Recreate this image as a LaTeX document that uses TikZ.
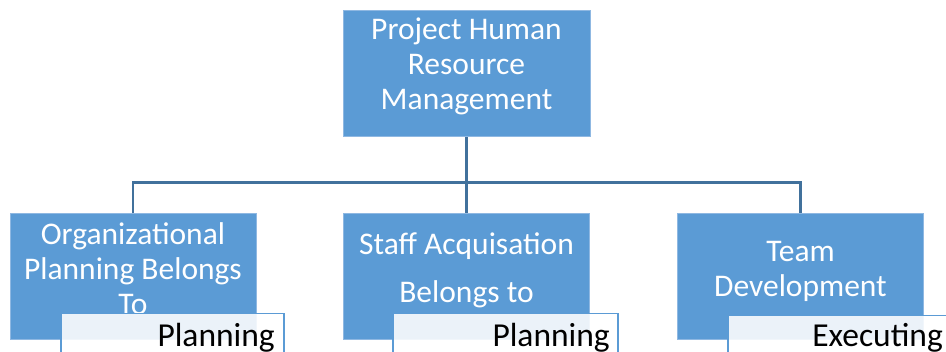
\documentclass[tikz,border=0pt]{standalone}
\usepackage{fontspec}
\setmainfont{Carlito}
\definecolor{boxblue}{HTML}{5B9BD5}
\definecolor{boxedge}{HTML}{8FB8E2}
\definecolor{linkblue}{HTML}{41719C}
\definecolor{tagedge}{HTML}{5B9BD5}
\begin{document}
\begin{tikzpicture}[x=1pt,y=-1pt,
  bluebox/.style={draw=boxedge, line width=1pt, fill=boxblue, minimum width=246pt, minimum height=126pt, inner sep=0pt},
  boxtext/.style={text=white, font=\fontsize{31.5}{35}\selectfont, align=center, inner sep=0pt},
  tagbox/.style={draw=tagedge, line width=1.5pt, fill=white, fill opacity=0.88, anchor=north west, minimum height=80pt, inner sep=0pt},
  tagtext/.style={text=black, font=\fontsize{33.5}{36}\selectfont, anchor=base east, inner sep=0pt},
  link/.style={draw=linkblue, line width=2.5pt}]
\useasboundingbox (0,0) rectangle (946,352);
\clip (0,0) rectangle (946,352);
% boxes
\node[bluebox, minimum width=247pt] (top) at (466.5,74) {};
\node[bluebox] (b1) at (133,277) {};
\node[bluebox] (b2) at (466.5,277) {};
\node[bluebox] (b3) at (800.5,277) {};
% connectors
\draw[link] (top.south) -- (b2.north);
\draw[link] (b1.north) -- ++(0,-31) coordinate (bus) -| (b3.north);
% texts
\node[boxtext] (t0) at (466.5,66) {Project Human\\Resource\\Management};
\node[boxtext] (t1) at (133,269) {Organizational\\Planning Belongs\\To};
\node[boxtext] (t2) at (466.5,270) {Staff Acquisation\\[13pt]Belongs to};
\node[boxtext] (t3) at (800.5,271) {Team\\Development};
% tags
\node[tagbox, minimum width=223pt] (g1) at (60,313) {};
\node[tagbox, minimum width=225pt] (g2) at (392,313) {};
\node[tagbox, minimum width=230pt] (g3) at (727,315) {};
\node[tagtext] (l1) at (275,347) {Planning};
\node[tagtext] (l2) at (610,347) {Planning};
\node[tagtext] (l3) at (943,347) {Executing};
\end{tikzpicture}
\end{document}
